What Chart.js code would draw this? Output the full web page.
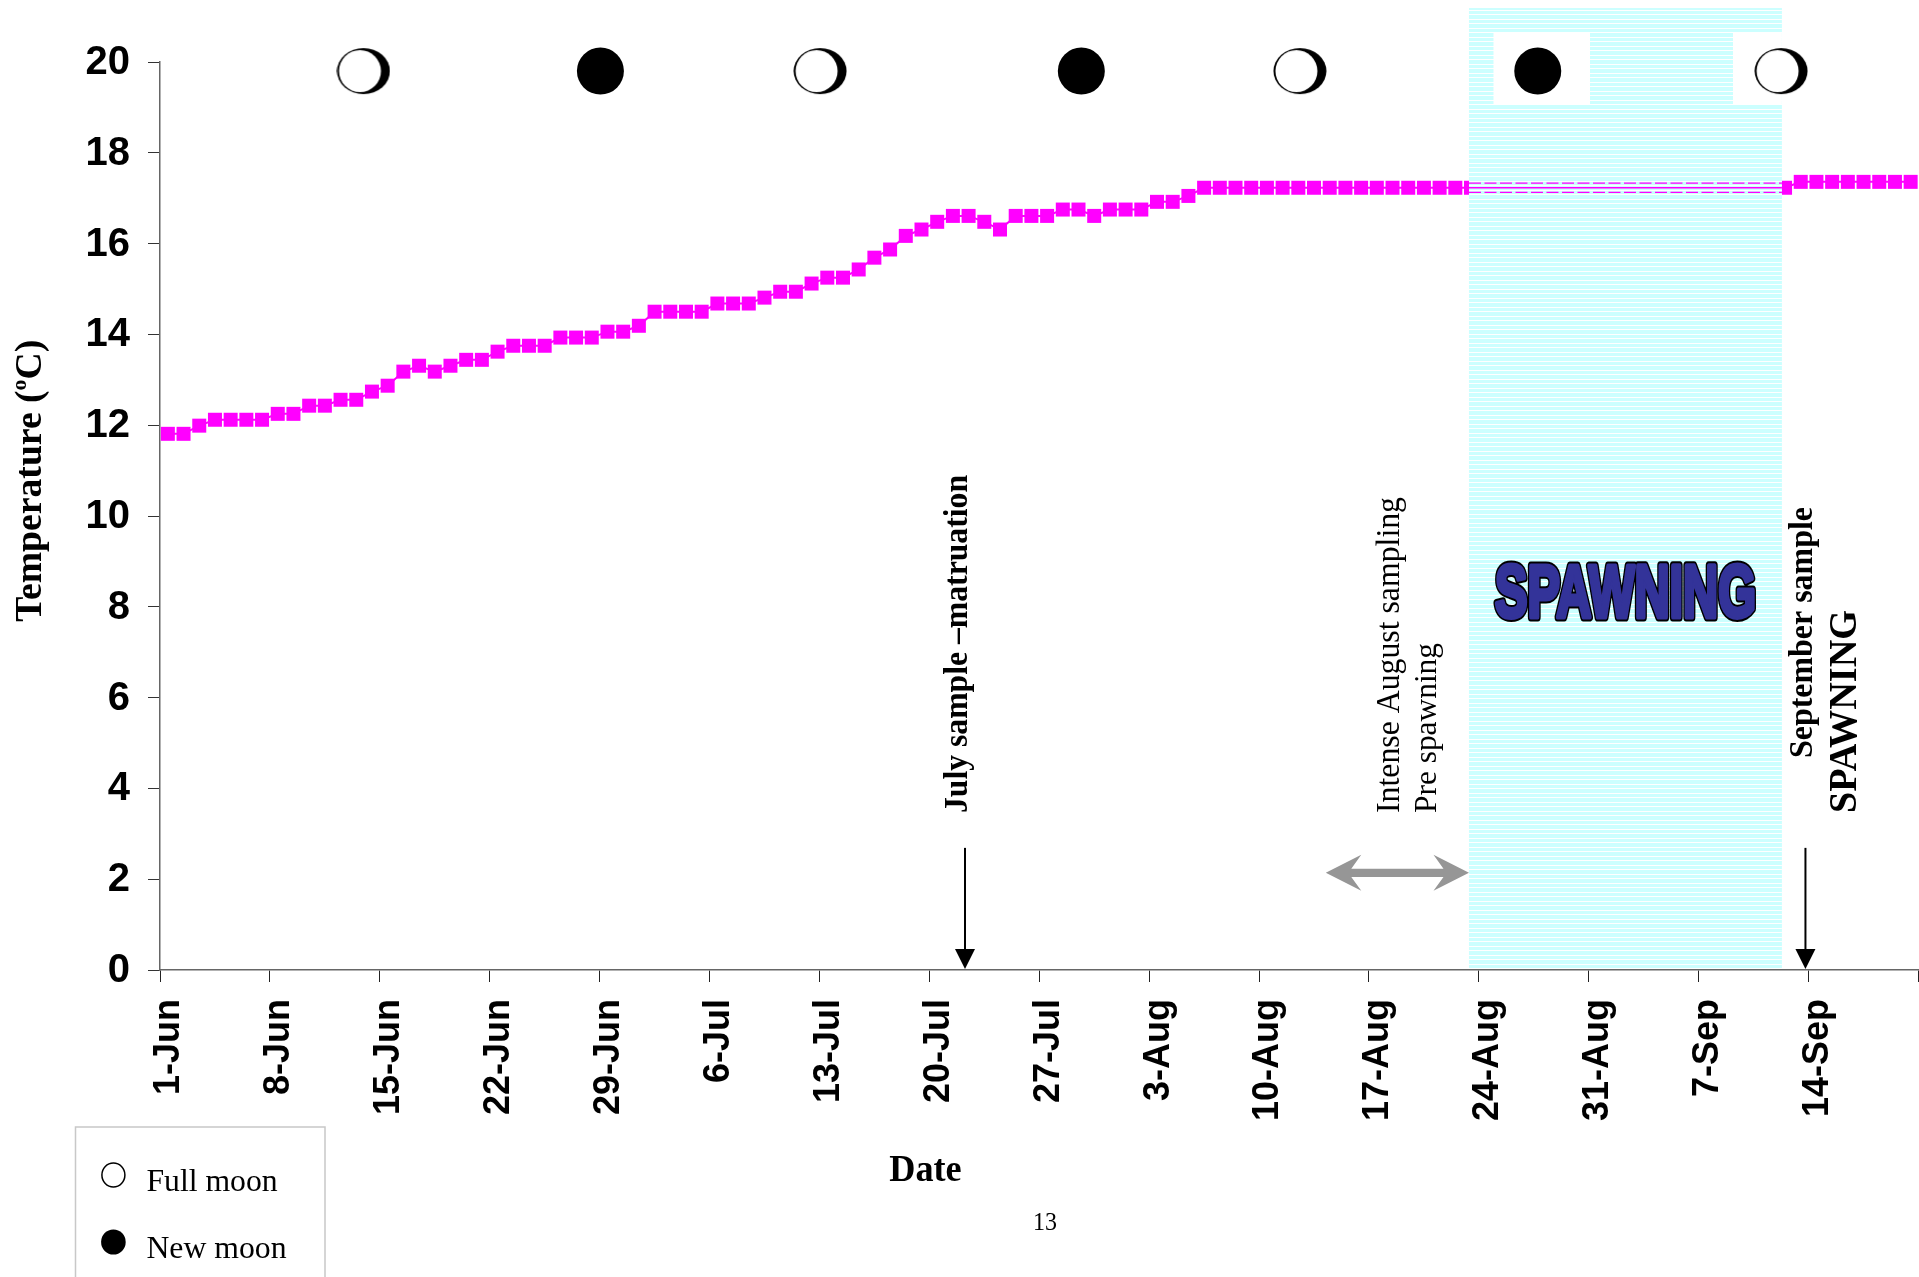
<!DOCTYPE html>
<html>
<head>
<meta charset="utf-8">
<title>Temperature</title>
<script src="https://cdn.jsdelivr.net/npm/chart.js@4/dist/chart.umd.min.js"></script>
<style>
  html, body { margin: 0; padding: 0; background: #fff; overflow: hidden; }
  canvas { display: block; }
</style>
</head>
<body>
<canvas id="tempChart" width="1919" height="1277"></canvas>
<script>
// daily temperature from 1-Jun, null where the spawning band hides the markers
const temperature = [
  11.81, 11.81, 11.99, 12.12, 12.12, 12.12, 12.12,
  12.25, 12.25, 12.43, 12.43, 12.56, 12.56, 12.74,
  12.87, 13.18, 13.31, 13.18, 13.31, 13.44, 13.44,
  13.62, 13.75, 13.75, 13.75, 13.93, 13.93, 13.93,
  14.06, 14.06, 14.19, 14.5, 14.5, 14.5, 14.5,
  14.68, 14.68, 14.68, 14.81, 14.94, 14.94, 15.12,
  15.25, 15.25, 15.43, 15.69, 15.87, 16.17, 16.31,
  16.48, 16.61, 16.61, 16.48, 16.31, 16.61, 16.61,
  16.61, 16.75, 16.75, 16.61, 16.75, 16.75, 16.75,
  16.92, 16.92, 17.05, 17.23, 17.23, 17.23, 17.23,
  17.23, 17.23, 17.23, 17.23, 17.23, 17.23, 17.23,
  17.23, 17.23, 17.23, 17.23, 17.23, 17.23, 17.23,
  null, null, null, null, null, null, null,
  null, null, null, null, null, null, null,
  null, null, null, null, null, 17.23, 17.36,
  17.36, 17.36, 17.36, 17.36, 17.36, 17.36, 17.36
];
const tickLabels = ["1-Jun", "8-Jun", "15-Jun", "22-Jun", "29-Jun", "6-Jul", "13-Jul", "20-Jul",
  "27-Jul", "3-Aug", "10-Aug", "17-Aug", "24-Aug", "31-Aug", "7-Sep", "14-Sep"];

// days counted from the left axis
const fullMoonDays = [12.96, 42.04, 72.6, 103.25];
const newMoonDays = [28.05, 58.68, 87.75];
const moonLevel = 19.8;
const spawningBand = [83.37, 103.3];
const bandLines = [17.13, 17.23, 17.33];
const sampleArrowDays = [51.27, 104.8];
const samplingSpan = [74.25, 83.37];

function fullMoonIcon() {
  const c = document.createElement("canvas");
  c.width = 54;
  c.height = 48;
  const g = c.getContext("2d");
  g.fillStyle = "#000";
  g.beginPath();
  g.ellipse(27, 24, 26.5, 23, 0, 0, Math.PI * 2);
  g.fill();
  g.fillStyle = "#fff";
  g.beginPath();
  g.ellipse(23.5, 24, 21, 21, 0, 0, Math.PI * 2);
  g.fill();
  return c;
}

function bandLine(value, dash) {
  return {
    data: spawningBand.map((d) => ({ x: d, y: value })),
    borderColor: "#ff00ff",
    borderWidth: dash ? 1.2 : 1.5,
    borderDash: dash ? [12, 3.5] : [],
    pointRadius: 0,
    order: 1,
    clip: false,
  };
}

// rotated text, stretched along its baseline to the measured length
function upText(ctx, text, font, x, yBottom, len) {
  ctx.save();
  ctx.font = font;
  ctx.fillStyle = "#000";
  ctx.textAlign = "left";
  ctx.textBaseline = "alphabetic";
  ctx.translate(x, yBottom);
  ctx.rotate(-Math.PI / 2);
  ctx.scale(len / ctx.measureText(text).width, 1);
  ctx.fillText(text, 0, 0);
  ctx.restore();
}

function flatText(ctx, text, font, x, y, len) {
  ctx.save();
  ctx.font = font;
  ctx.fillStyle = "#000";
  ctx.textAlign = "left";
  ctx.textBaseline = "alphabetic";
  ctx.translate(x, y);
  ctx.scale(len / ctx.measureText(text).width, 1);
  ctx.fillText(text, 0, 0);
  ctx.restore();
}

function downArrow(ctx, x, yTop, yTip) {
  ctx.strokeStyle = "#000";
  ctx.lineWidth = 2;
  ctx.beginPath();
  ctx.moveTo(x, yTop);
  ctx.lineTo(x, yTip - 15);
  ctx.stroke();
  ctx.fillStyle = "#000";
  ctx.beginPath();
  ctx.moveTo(x, yTip);
  ctx.lineTo(x - 10, yTip - 20);
  ctx.lineTo(x + 10, yTip - 20);
  ctx.closePath();
  ctx.fill();
}

const bandPlugin = {
  id: "band",
  // drawn over the temperature markers but under the lines running through the band
  beforeDatasetDraw(chart, args) {
    if (args.index !== 3) return;
    const ctx = chart.ctx;
    const x0 = chart.scales.x.getPixelForValue(spawningBand[0]);
    const x1 = chart.scales.x.getPixelForValue(spawningBand[1]);
    ctx.save();
    ctx.fillStyle = "#ccffff";
    ctx.fillRect(x0, 8, x1 - x0, 960);
    ctx.fillStyle = "#fff";
    for (let y = 9.5; y < 968; y += 4.5) {
      ctx.fillRect(x0, Math.round(y), x1 - x0, 1);
    }
    // white boxes behind the last two moons
    ctx.fillRect(1493.5, 32, 96.5, 73);
    ctx.fillRect(1733, 32, x1 - 1733, 73);
    ctx.restore();
  },
};

const notesPlugin = {
  id: "notes",
  afterDraw(chart) {
    const ctx = chart.ctx;
    const xs = chart.scales.x;
    const ys = chart.scales.y;

    sampleArrowDays.forEach((d) => {
      downArrow(ctx, xs.getPixelForValue(d), ys.getPixelForValue(2.69), ys.getPixelForValue(0) - 1);
    });

    // grey double arrow
    const ax0 = xs.getPixelForValue(samplingSpan[0]);
    const ax1 = xs.getPixelForValue(samplingSpan[1]);
    const ay = ys.getPixelForValue(2.14);
    ctx.fillStyle = "#969696";
    ctx.beginPath();
    ctx.moveTo(ax0, ay);
    ctx.lineTo(ax0 + 35.5, ay - 18);
    ctx.lineTo(ax0 + 25.5, ay - 4.2);
    ctx.lineTo(ax1 - 25.5, ay - 4.2);
    ctx.lineTo(ax1 - 35.5, ay - 18);
    ctx.lineTo(ax1, ay);
    ctx.lineTo(ax1 - 35.5, ay + 18);
    ctx.lineTo(ax1 - 25.5, ay + 4.2);
    ctx.lineTo(ax0 + 25.5, ay + 4.2);
    ctx.lineTo(ax0 + 35.5, ay + 18);
    ctx.closePath();
    ctx.fill();

    upText(ctx, "July sample –matruation", "bold 34px 'Liberation Serif'", 967, 813, 338);
    upText(ctx, "Intense August sampling", "33px 'Liberation Serif'", 1398.7, 813, 316);
    upText(ctx, "Pre spawning", "32px 'Liberation Serif'", 1436, 813, 170);
    upText(ctx, "September sample", "bold 33px 'Liberation Serif'", 1812, 758, 251);
    upText(ctx, "SPAWNING", "bold 40px 'Liberation Serif'", 1856, 813, 203);

    // word art label in the band: black edge, then blue laid over it to fatten the letters
    ctx.save();
    ctx.font = "bold 75px 'Liberation Sans'";
    ctx.textAlign = "left";
    ctx.textBaseline = "alphabetic";
    const wa = 261 / ctx.measureText("SPAWNING").width;
    ctx.translate(1495, 616.5);
    ctx.scale(wa, 1);
    ctx.lineJoin = "round";
    ctx.strokeStyle = "#000";
    ctx.lineWidth = 9;
    ctx.strokeText("SPAWNING", 0, 0);
    ctx.strokeStyle = "#333399";
    ctx.lineWidth = 5;
    ctx.strokeText("SPAWNING", 0, 0);
    ctx.fillStyle = "#333399";
    ctx.fillText("SPAWNING", 0, 0);
    ctx.restore();

    // y axis title, superscript o drawn on its own
    ctx.save();
    ctx.fillStyle = "#000";
    ctx.textAlign = "left";
    ctx.textBaseline = "alphabetic";
    ctx.translate(41, 621.7);
    ctx.rotate(-Math.PI / 2);
    ctx.font = "bold 38px 'Liberation Serif'";
    const w1 = ctx.measureText("Temperature (").width;
    const w3 = ctx.measureText("C)").width;
    ctx.font = "bold 22px 'Liberation Serif'";
    const w2 = ctx.measureText("o").width;
    ctx.scale(282 / (w1 + w2 + w3), 1);
    ctx.font = "bold 38px 'Liberation Serif'";
    ctx.fillText("Temperature (", 0, 0);
    ctx.fillText("C)", w1 + w2, 0);
    ctx.font = "bold 22px 'Liberation Serif'";
    ctx.fillText("o", w1, -15);
    ctx.restore();

    flatText(ctx, "Date", "bold 38px 'Liberation Serif'", 889.3, 1181, 72.4);
    flatText(ctx, "13", "26px 'Liberation Serif'", 1033, 1230, 24);

    // moon key, cut by the bottom of the page like the original
    ctx.strokeStyle = "#c8c8c8";
    ctx.lineWidth = 1.5;
    ctx.beginPath();
    ctx.moveTo(75.5, 1277);
    ctx.lineTo(75.5, 1127);
    ctx.lineTo(325, 1127);
    ctx.lineTo(325, 1277);
    ctx.stroke();
    ctx.fillStyle = "#fff";
    ctx.strokeStyle = "#000";
    ctx.lineWidth = 1.5;
    ctx.beginPath();
    ctx.ellipse(113.4, 1175, 11.5, 12, 0, 0, Math.PI * 2);
    ctx.fill();
    ctx.stroke();
    ctx.fillStyle = "#000";
    ctx.beginPath();
    ctx.ellipse(113.4, 1242, 12.3, 12.6, 0, 0, Math.PI * 2);
    ctx.fill();
    flatText(ctx, "Full moon", "32px 'Liberation Serif'", 146.4, 1191, 131.3);
    flatText(ctx, "New moon", "32px 'Liberation Serif'", 146.4, 1258, 140.2);
  },
};

new Chart(document.getElementById("tempChart"), {
  type: "line",
  data: {
    datasets: [
      {
        data: temperature.map((t, i) => ({ x: i + 0.5, y: t })),
        borderColor: "#ff00ff",
        borderWidth: 2,
        tension: 0,
        pointStyle: "rect",
        pointRadius: 9.9,
        pointBorderWidth: 0,
        pointBackgroundColor: "#ff00ff",
        spanGaps: false,
        order: 2,
        clip: false,
      },
      bandLine(bandLines[1], false),
      bandLine(bandLines[2], true),
      bandLine(bandLines[0], true),
      {
        data: newMoonDays.map((d) => ({ x: d, y: moonLevel })),
        showLine: false,
        pointStyle: "circle",
        pointRadius: 23.5,
        pointBorderWidth: 0,
        pointBackgroundColor: "#000",
        order: 0,
        clip: false,
      },
      {
        data: fullMoonDays.map((d) => ({ x: d, y: moonLevel })),
        showLine: false,
        pointStyle: fullMoonIcon(),
        pointRadius: 24,
        order: 0,
        clip: false,
      },
    ],
  },
  options: {
    responsive: false,
    animation: false,
    events: [],
    layout: { autoPadding: false, padding: { top: 62, right: 0.5, left: 0, bottom: 0 } },
    plugins: { legend: { display: false }, title: { display: false }, tooltip: { enabled: false } },
    scales: {
      x: {
        type: "linear",
        min: 0,
        max: 112,
        // rotated labels would otherwise reserve room on the right
        afterFit(scale) {
          scale.height = 307;
          scale.paddingRight = 0;
          scale.paddingLeft = 0;
        },
        border: { color: "#666", width: 1.5 },
        grid: { drawOnChartArea: false, drawTicks: true, tickLength: 12, tickColor: "#222", tickWidth: 1 },
        ticks: {
          stepSize: 7,
          autoSkip: false,
          maxRotation: 90,
          minRotation: 90,
          labelOffset: 9.5,
          padding: 17,
          color: "#000",
          font: { family: "'Liberation Sans'", size: 36, weight: "bold" },
          callback: (v) => tickLabels[v / 7] || "",
        },
      },
      y: {
        min: 0,
        max: 20,
        afterFit(scale) { scale.width = 160; },
        border: { color: "#666", width: 1.5 },
        grid: { drawOnChartArea: false, drawTicks: true, tickLength: 12, tickColor: "#333", tickWidth: 1 },
        ticks: {
          stepSize: 2,
          padding: 18,
          labelOffset: 1,
          color: "#000",
          font: { family: "'Liberation Sans'", size: 40, weight: "bold" },
        },
      },
    },
  },
  plugins: [bandPlugin, notesPlugin],
});
</script>
</body>
</html>
